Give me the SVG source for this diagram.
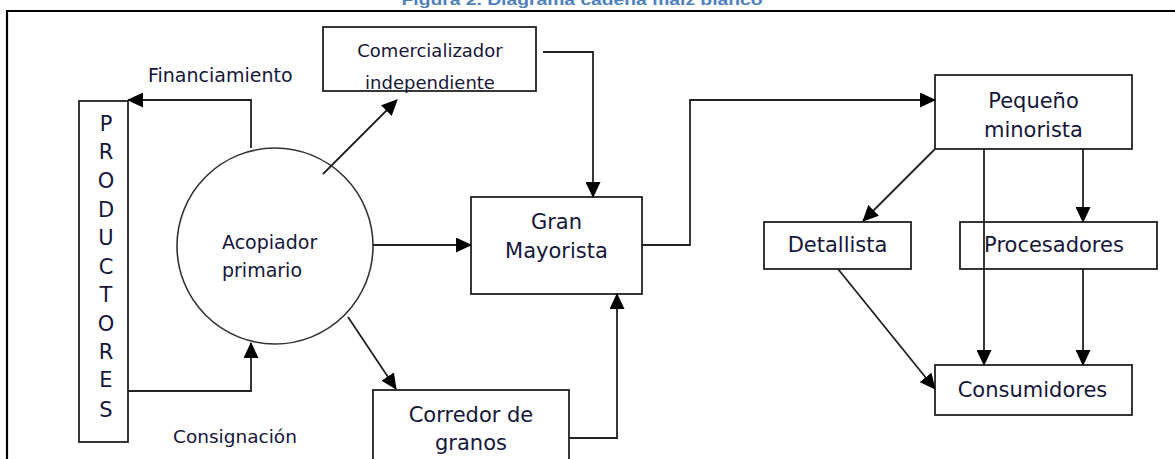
<svg xmlns="http://www.w3.org/2000/svg" width="1175" height="459" viewBox="0 0 1175 459">
<style>
.box{fill:#fff;stroke:#222;stroke-width:1.8}
.t{font-family:"DejaVu Sans",Verdana,sans-serif;fill:#16163a}
.c{text-anchor:middle}
.ln{fill:none;stroke:#222;stroke-width:1.8}
.frame{fill:none;stroke:#000;stroke-width:2.2}
</style>
<defs>
<marker id="ah" markerUnits="userSpaceOnUse" markerWidth="16" markerHeight="15" viewBox="0 0 16 15" refX="15" refY="7.5" orient="auto">
<path d="M0,0 L16,7.5 L0,15 z" fill="#000"/>
</marker>
</defs>
<rect width="1175" height="459" fill="#fff"/>
<text x="582" y="5" text-anchor="middle" font-family="'Liberation Sans',Arial,sans-serif" font-weight="bold" font-size="15" fill="#4f81bd" textLength="361" lengthAdjust="spacingAndGlyphs">Figura 2. Diagrama cadena maíz blanco</text>
<path class="frame" d="M7,459 V11 H1175"/>

<g id="productores">
<rect class="box" x="79" y="101" width="49" height="341"/>
<g class="t c" font-size="21">
<text x="106" y="131">P</text>
<text x="106" y="159">R</text>
<text x="106" y="188">O</text>
<text x="106" y="217">D</text>
<text x="106" y="245">U</text>
<text x="106" y="274">C</text>
<text x="106" y="302">T</text>
<text x="106" y="331">O</text>
<text x="106" y="359">R</text>
<text x="106" y="387">E</text>
<text x="106" y="417">S</text>
</g>
</g>

<g id="acopiador">
<circle cx="275" cy="246" r="98" fill="#fff" stroke="#333" stroke-width="1.6"/>
<text class="t" x="222" y="249" font-size="19">Acopiador</text>
<text class="t" x="222" y="277" font-size="19">primario</text>
</g>

<g id="comercializador">
<rect class="box" x="323" y="27" width="213" height="64"/>
<text class="t c" x="430" y="57" font-size="18">Comercializador</text>
<text class="t c" x="430" y="89" font-size="18">independiente</text>
</g>

<g id="gran-mayorista">
<rect class="box" x="471" y="197" width="171" height="97"/>
<text class="t c" x="556.5" y="229" font-size="21">Gran</text>
<text class="t c" x="556.5" y="258" font-size="21">Mayorista</text>
</g>

<g id="corredor">
<rect class="box" x="373" y="390" width="196" height="80"/>
<text class="t c" x="471" y="422" font-size="21">Corredor de</text>
<text class="t c" x="471" y="450" font-size="21">granos</text>
</g>

<g id="pequeno-minorista">
<rect class="box" x="935" y="75" width="197" height="74"/>
<text class="t c" x="1033.5" y="108" font-size="21">Pequeño</text>
<text class="t c" x="1033.5" y="137" font-size="21">minorista</text>
</g>

<g id="detallista">
<rect class="box" x="764" y="222" width="147" height="47"/>
<text class="t c" x="837.5" y="252" font-size="21">Detallista</text>
</g>

<g id="procesadores">
<rect class="box" x="960" y="222" width="197" height="47"/>
<text class="t c" x="1054" y="252" font-size="21">Procesadores</text>
</g>

<g id="consumidores">
<rect class="box" x="935" y="365" width="197" height="50"/>
<text class="t c" x="1032.5" y="397" font-size="21">Consumidores</text>
</g>

<g id="labels">
<text class="t" x="148" y="82" font-size="19">Financiamiento</text>
<text class="t" x="173" y="443" font-size="18.5">Consignación</text>
</g>

<g id="connectors">
<path class="ln" d="M251,148 V100 H128" marker-end="url(#ah)"/>
<path class="ln" d="M128,391 H251 V343" marker-end="url(#ah)"/>
<path class="ln" d="M323,174 L397,100" marker-end="url(#ah)"/>
<path class="ln" d="M348,317 L396,389" marker-end="url(#ah)"/>
<path class="ln" d="M373,245 H471" marker-end="url(#ah)"/>
<path class="ln" d="M543,52 H593 V197" marker-end="url(#ah)"/>
<path class="ln" d="M569,438 H617 V294" marker-end="url(#ah)"/>
<path class="ln" d="M642,245 H690 V100 H935" marker-end="url(#ah)"/>
<path class="ln" d="M935,149 L863,221" marker-end="url(#ah)"/>
<path class="ln" d="M1083,149 V222" marker-end="url(#ah)"/>
<path class="ln" d="M984,149 V365" marker-end="url(#ah)"/>
<path class="ln" d="M1083,269 V365" marker-end="url(#ah)"/>
<path class="ln" d="M838,269 L935,389" marker-end="url(#ah)"/>
</g>
</svg>
